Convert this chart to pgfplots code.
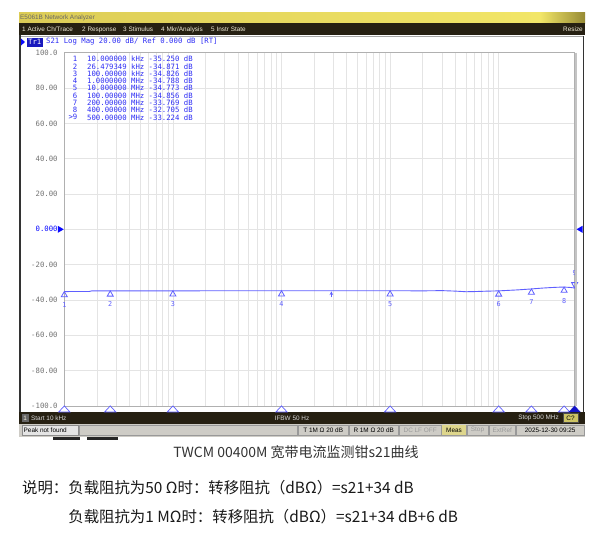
\documentclass[border=0pt]{standalone}
\usepackage{pgfplots}
\pgfplotsset{compat=1.18}
\usepackage{fontspec}
\setmainfont{Liberation Sans}
\newfontfamily\mono{DejaVu Sans Mono}
\newfontfamily\cjk{Noto Sans CJK SC}
\definecolor{trace}{RGB}{95,95,255}
\definecolor{mtext}{RGB}{45,45,245}
\definecolor{refblue}{RGB}{10,10,255}
\definecolor{gridc}{RGB}{228,228,228}
\definecolor{barbg}{RGB}{38,32,18}
\definecolor{statbg}{RGB}{206,204,198}
\definecolor{menutxt}{RGB}{240,235,215}
\definecolor{ylA}{RGB}{220,204,86}
\definecolor{ylB}{RGB}{242,230,104}
\definecolor{ylC}{RGB}{150,138,52}
\definecolor{trbox}{RGB}{25,25,190}
\definecolor{cbox}{RGB}{205,196,100}
\definecolor{measbox}{RGB}{222,214,140}
\definecolor{axisc}{RGB}{176,176,176}
\definecolor{rightc}{RGB}{196,196,196}
\definecolor{activec}{RGB}{20,20,200}
\newcommand{\mfont}{\mono\fontsize{7.3}{8}\selectfont}
\newcommand{\ufont}{\fontsize{6.4}{7}\selectfont}
\begin{document}
\begin{tikzpicture}
\begin{scope}[x=1pt,y=-1pt]
\fill[white] (0,0) rectangle (600,539);
% title bar
\shade[left color=ylA, right color=ylB] (19,12.5) rectangle (540,23);
\shade[left color=ylB, right color=ylC] (540,12.5) rectangle (585,23);
\node[anchor=west, inner sep=0pt, text=black!60, font=\ufont] at (20,18) {E5061B Network Analyzer};
% menu bar
\fill[barbg] (19,23) rectangle (585,35);
\begin{scope}[every node/.style={anchor=west, inner sep=0pt, text=menutxt, font=\ufont}]
\node at (22,29.5) {1 Active Ch/Trace};
\node at (82,29.5) {2 Response};
\node at (123,29.5) {3 Stimulus};
\node at (161,29.5) {4 Mkr/Analysis};
\node at (211,29.5) {5 Instr State};
\node[anchor=east] at (583,29.5) {Resize};
\end{scope}
% panel
\fill[white] (19,35) rectangle (585,412);
\draw[black!80, line width=2pt] (20,35) -- (20,412);
\draw[black!80, line width=1.6pt] (583.5,36) -- (583.5,412);
\draw[black!35, line width=0.8pt] (21,36.5) -- (583,36.5);
% header
\fill[refblue] (21,38.5) -- (25,42) -- (21,45.5) -- cycle;
\fill[trbox] (27,37.5) rectangle (42.5,46.5);
\node[inner sep=0pt, text=white, font=\mfont] at (34.7,42) {Tr1};
\node[anchor=west, inner sep=0pt, text=mtext, font=\mfont] at (46,42) {S21 Log Mag 20.00 dB/ Ref 0.000 dB [RT]};
% bottom bar
\fill[barbg] (19,412) rectangle (585,423.5);
\fill[black!60] (22,413.5) rectangle (28.5,422);
\node[inner sep=0pt, text=menutxt, font=\ufont] at (25.2,418) {1};
\begin{scope}[every node/.style={inner sep=0pt, text=black!15, font=\ufont}]
\node[anchor=west] at (31,418) {Start 10 kHz};
\node at (292,418) {IFBW 50 Hz};
\node[anchor=east] at (559,418) {Stop 500 MHz};
\end{scope}
\fill[cbox] (563,413.5) rectangle (578,422);
\draw[black!70, line width=0.5pt] (563,413.5) rectangle (578,422);
\node[inner sep=0pt, font=\ufont] at (570.5,417.8) {C?};
% status bar
\fill[statbg] (19,423.5) rectangle (585,437);
\fill[black!10] (22,425) rectangle (78,435.5);
\draw[black!45, line width=0.5pt] (22,425) rectangle (78,435.5);
\node[anchor=west, inner sep=0pt, font=\ufont] at (23.5,430.3) {Peak not found};
\foreach \a/\b in {79/297, 298/348.5, 349/398.5, 399.5/441, 442/466, 467/488, 489/515.5, 516.5/584}{
  \draw[black!40, line width=0.5pt] (\a,425) rectangle (\b,435.5);
}
\fill[measbox] (442.3,425.3) rectangle (465.7,435.2);
\begin{scope}[every node/.style={inner sep=0pt, font=\ufont}]
\node at (323.2,430.3) {T 1M Ω 20 dB};
\node at (373.7,430.3) {R 1M Ω 20 dB};
\node[text=black!40] at (420.2,430.3) {DC LF OFF};
\node at (454,430.3) {Meas};
\node[text=black!40] at (477.5,430.3) {Stop};
\node[text=black!40] at (502.3,430.3) {ExtRef};
\node at (550.2,430.3) {2025-12-30 09:25};
\end{scope}
\fill[black!85] (53,437) rectangle (80,439.5);
\fill[black!85] (87,437) rectangle (118,439.5);
\end{scope}

\begin{axis}[
  at={(64.3pt,-405.9pt)}, anchor=south west,
  width=510.3pt, height=353.2pt, scale only axis,
  xmode=log, xmin=1e4, xmax=5e8, ymin=-100, ymax=100,
  clip=false,
  axis line style={draw=axisc, line width=0.8pt},
  xtick={1e4,1e5,1e6,1e7,1e8}, xticklabel=\empty,
  ytick={-100,-80,...,100},
  yticklabels={-100.0,-80.00,-60.00,-40.00,-20.00,{\color{refblue}0.000},20.00,40.00,60.00,80.00,100.0},
  yticklabel style={font=\mfont, text=black!55, inner sep=0pt, anchor=east, xshift=-6.5pt},
  major tick length=0pt, minor tick length=0pt,
  xmajorgrids, xminorgrids, ymajorgrids,
  grid style={gridc, line width=0.8pt},
  minor grid style={gridc, line width=0.8pt},
]
\addplot[trace, line width=0.9pt] coordinates {
(1e4,-35.25) (1.7e4,-35.22) (1.78e4,-34.9) (2.6479e4,-34.87) (1e5,-34.83) (1e6,-34.79)
(1e7,-34.77) (2e7,-34.85) (3e7,-34.72) (4e7,-35.0) (5e7,-35.35) (6e7,-35.25) (8e7,-35.0)
(1e8,-34.86) (1.5e8,-34.3) (2e8,-33.77) (2.5e8,-33.3) (3e8,-33.0) (3.5e8,-32.8)
(4e8,-32.71) (4.5e8,-32.9) (5e8,-33.22)};
% markers on trace
\addplot[only marks, mark=triangle, mark size=3.5pt,
  mark options={trace, line width=0.8pt, yshift=-3.5pt},
  nodes near coords, point meta=explicit symbolic,
  nodes near coords align={below},
  every node near coord/.append style={inner sep=0pt, yshift=-7pt, text=trace, font=\mono\fontsize{6.8}{7}\selectfont}]
  table[meta=lab] {
x y lab
1e4 -35.250 1
2.6479349e4 -34.871 2
1e5 -34.826 3
1e6 -34.788 4
1e7 -34.773 5
1e8 -34.856 6
2e8 -33.769 7
4e8 -32.705 8
};
\addplot[only marks, mark=triangle, mark size=3.5pt,
  mark options={trace, line width=0.8pt, rotate=180, yshift=-3.6pt},
  nodes near coords, point meta=explicit symbolic,
  nodes near coords align={above},
  every node near coord/.append style={inner sep=0pt, yshift=8pt, text=trace, font=\mono\fontsize{6.8}{7}\selectfont}]
  table[meta=lab] {
x y lab
5e8 -33.224 9
};
% bottom stimulus triangles
\addplot[only marks, mark=triangle, mark size=4pt,
  mark options={trace, line width=0.7pt, xscale=1.6, yshift=-4pt}]
  coordinates {(1e4,-100) (2.6479349e4,-100) (1e5,-100) (1e6,-100) (1e7,-100) (1e8,-100) (2e8,-100) (4e8,-100)};
\addplot[only marks, mark=triangle*, mark size=4pt,
  mark options={draw=activec, fill=activec, xscale=1.6, yshift=-4pt}]
  coordinates {(5e8,-100)};
% small arrow marker
\draw[trace, line width=0.7pt, ->, >=stealth] (axis cs:2.88e6,-38.6) -- (axis cs:2.88e6,-35.1);
\end{axis}
\draw[rightc, line width=2pt] (575.6pt,-52.7pt) -- (575.6pt,-405.9pt);

\begin{scope}[x=1pt,y=-1pt]
% reference position arrows
\fill[refblue] (57.8,225.8) -- (63.8,229.3) -- (57.8,232.8) -- cycle;
\fill[refblue] (582.5,225.8) -- (576.5,229.3) -- (582.5,232.8) -- cycle;
% marker table
\begin{scope}[every node/.style={inner sep=0pt, text=mtext, font=\mfont}]
\foreach \n/\t [count=\i from 0] in {1/10.000000 kHz -35.250 dB, 2/26.479349 kHz -34.871 dB, 3/100.00000 kHz -34.826 dB, 4/1.0000000 MHz -34.788 dB, 5/10.000000 MHz -34.773 dB, 6/100.00000 MHz -34.856 dB, 7/200.00000 MHz -33.769 dB, 8/400.00000 MHz -32.705 dB, >9/500.00000 MHz -33.224 dB}{
  \node[anchor=east] at (77.5,{59+7.29*\i}) {\n};
  \node[anchor=west] at (87,{59+7.29*\i}) {\t};
}
\end{scope}
% captions
\node[inner sep=0pt, text=black!80, font=\cjk\fontsize{14}{16}\selectfont] at (296,452) {TWCM 00400M 宽带电流监测钳s21曲线};
\node[anchor=west, inner sep=0pt, text=black!90, font=\cjk\fontsize{15.4}{17}\selectfont] at (22,488) {说明：负载阻抗为50 Ω时：转移阻抗（dBΩ）=s21+34 dB};
\node[anchor=west, inner sep=0pt, text=black!90, font=\cjk\fontsize{15.4}{17}\selectfont] at (22,517) {\phantom{说明：}负载阻抗为1 MΩ时：转移阻抗（dBΩ）=s21+34 dB+6 dB};
\end{scope}
\end{tikzpicture}
\end{document}
